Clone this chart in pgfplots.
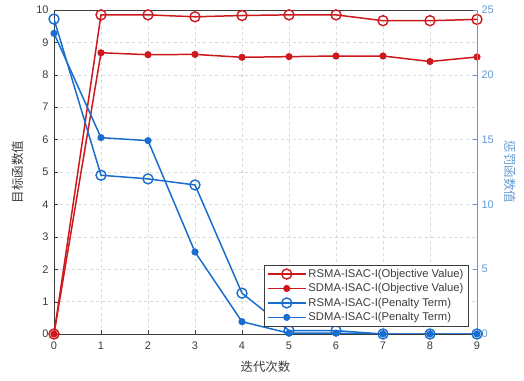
\documentclass[border=0pt]{standalone}
\usepackage{fontspec}
\setmainfont{Liberation Sans}
\newfontfamily\cjk{Noto Sans CJK SC}
\usepackage{pgfplots}
\pgfplotsset{compat=1.18}
\definecolor{myred}{RGB}{205,25,30}
\definecolor{myblue}{RGB}{25,110,205}
\definecolor{rightax}{RGB}{100,155,210}
\definecolor{tickgray}{RGB}{60,60,60}
\begin{document}
\begin{tikzpicture}
\pgfplotsset{
  common/.style={width=423bp,height=324bp,scale only axis,xmin=0,xmax=9,
    /pgf/number format/assume math mode=true,
    tick label style={font=\fontsize{11}{13}\selectfont, text=tickgray},
    tick align=inside, major tick length=4bp,
    label style={font=\fontsize{12.5}{15}\selectfont, text=tickgray},
  },
  legend image code/.code={\draw[mark repeat=2,mark phase=2] plot coordinates {(0bp,0bp) (19bp,0bp) (38bp,0bp)};},
}
\begin{axis}[common, ymin=0, ymax=10, xtick={0,...,9}, ytick={0,...,10},
  grid=major, grid style={dashed, gray!30},
  axis line style={tickgray, line width=0.6pt},
  tick style={tickgray},
  ytick pos=left, xtick pos=bottom,
  yticklabel style={xshift=-2bp},
  xticklabel style={yshift=-4bp},
  xlabel={\cjk 迭代次数}, ylabel={\cjk 目标函数值},
  xlabel style={at={(axis description cs:0.5,-0.102)}, anchor=center},
  ylabel style={at={(axis description cs:-0.085,0.5)}, anchor=center},
]
\addplot[myred, line width=1.5pt, mark=o, mark size=5bp, mark options={line width=1.4pt}] coordinates {(0,0)(1,9.85)(2,9.85)(3,9.79)(4,9.83)(5,9.85)(6,9.85)(7,9.67)(8,9.67)(9,9.71)};
\addplot[myred, line width=1.5pt, mark=*, mark size=2.8bp] coordinates {(0,0)(1,8.68)(2,8.62)(3,8.63)(4,8.54)(5,8.56)(6,8.58)(7,8.58)(8,8.41)(9,8.55)};
\end{axis}
\begin{axis}[common, ymin=0, ymax=25, ytick={0,5,...,25},
  axis y line*=right, axis x line=none,
  y axis line style={rightax, line width=0.9pt},
  ytick style={rightax},
  yticklabel style={text=rightax, xshift=1bp},
  ylabel={\cjk 惩罚函数值},
  ylabel style={at={(axis description cs:1.078,0.5)}, anchor=center, rotate=180, text=rightax},
  legend style={at={(0.979,0.022)}, anchor=south east, font=\fontsize{11.3}{13}\selectfont, draw=tickgray, fill=white, text=tickgray, row sep=0.8bp, inner sep=2.5bp},
  legend cell align=left,
]
\addlegendimage{myred, line width=1.5pt, mark=o, mark size=5bp, mark options={line width=1.4pt}}
\addlegendentry{RSMA-ISAC-I(Objective Value)}
\addlegendimage{myred, line width=1.5pt, mark=*, mark size=2.8bp}
\addlegendentry{SDMA-ISAC-I(Objective Value)}
\addplot[myblue, line width=1.5pt, mark=o, mark size=5bp, mark options={line width=1.4pt}] coordinates {(0,24.3)(1,12.25)(2,11.97)(3,11.5)(4,3.15)(5,0.26)(6,0.26)(7,0)(8,0)(9,0)};
\addlegendentry{RSMA-ISAC-I(Penalty Term)}
\addplot[myblue, line width=1.5pt, mark=*, mark size=2.8bp] coordinates {(0,23.2)(1,15.15)(2,14.92)(3,6.33)(4,0.95)(5,0.06)(6,0.06)(7,0)(8,0)(9,0)};
\addlegendentry{SDMA-ISAC-I(Penalty Term)}
\end{axis}
\pgfresetboundingbox
\path (-54bp,-47bp) rectangle (470bp,334bp);
\end{tikzpicture}
\end{document}
